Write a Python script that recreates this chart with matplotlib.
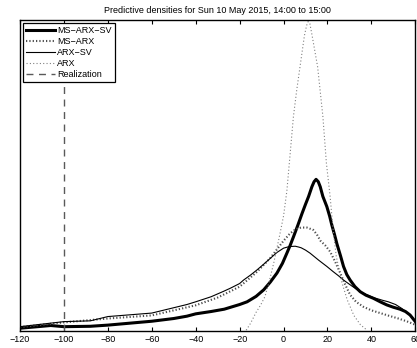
import matplotlib.pyplot as plt

plt.rcParams['font.family'] = ['Liberation Sans', 'DejaVu Sans']

# MS-ARX-SV predictive density
ms_arx_sv_x = [-120, -106, -100, -88, -80, -60, -50, -44, -40, -33, -27, -20, -16.6, -12.5,
               -9, -6, -3, -0.5, 1.5, 3, 4.5, 6.5, 8.4, 10, 11.4, 12.9, 13.9, 14.8, 15.8,
               16.7, 17.9, 19.7, 21, 22, 23.2, 24.3, 26, 27.3, 28.8, 30.3, 32.5, 34.9,
               37.5, 40.9, 44, 47, 50, 53, 55.5, 57.6, 60]
ms_arx_sv_y = [0.0007, 0.0014, 0.0011, 0.0012, 0.0015, 0.0025, 0.0032, 0.0038, 0.0044,
               0.0050, 0.0056, 0.0068, 0.0075, 0.0089, 0.0106, 0.0126, 0.0149, 0.0174,
               0.0200, 0.0220, 0.0242, 0.0272, 0.0302, 0.0326, 0.0346, 0.0371, 0.0384,
               0.0390, 0.0384, 0.0371, 0.0346, 0.0320, 0.0295, 0.0272, 0.0248, 0.0224,
               0.0192, 0.0166, 0.0145, 0.0131, 0.0114, 0.0101, 0.0092, 0.0084, 0.0075,
               0.0067, 0.0061, 0.0056, 0.0050, 0.0041, 0.0024]

# MS-ARX predictive density
ms_arx_x = [-120, -100, -80, -60, -40, -30, -24.2, -20, -16, -12.1, -9, -6, -3, 0, 2.5,
            4.5, 6.5, 8, 10.6, 13.5, 15.2, 16.8, 19, 21.2, 23.5, 25.8, 28, 30.3, 33,
            36.4, 40, 44, 48, 51.7, 56, 60]
ms_arx_y = [0.0010, 0.0022, 0.0032, 0.0040, 0.0066, 0.0086, 0.0102, 0.0114, 0.0133,
            0.0152, 0.0170, 0.0188, 0.0210, 0.0232, 0.0248, 0.0258, 0.0264, 0.0266,
            0.0266, 0.0260, 0.0248, 0.0232, 0.0220, 0.0204, 0.0178, 0.0149, 0.0120,
            0.0093, 0.0075, 0.0062, 0.0053, 0.0046, 0.0039, 0.0033, 0.0025, 0.0016]

# ARX-SV predictive density
arx_sv_x = [-120, -100, -88, -80, -60, -44, -40, -33, -27.3, -24.2, -20, -18.2, -15,
            -12.1, -9, -6, -3, 0, 2.5, 5.3, 6.8, 8, 10, 12.1, 16, 19.7, 22.5, 25, 27.3,
            31, 34.9, 38, 40.9, 45, 47.7, 51, 53.8, 56.5, 58.4, 60]
arx_sv_y = [0.0011, 0.0024, 0.0026, 0.0037, 0.0046, 0.0068, 0.0075, 0.0088, 0.0102,
            0.0110, 0.0122, 0.0131, 0.0144, 0.0157, 0.0172, 0.0187, 0.0202, 0.0213,
            0.0217, 0.0218, 0.0216, 0.0214, 0.0208, 0.0200, 0.0182, 0.0166, 0.0153,
            0.0142, 0.0131, 0.0116, 0.0101, 0.0093, 0.0086, 0.0079, 0.0075, 0.0068,
            0.0058, 0.0046, 0.0037, 0.0024]

# ARX predictive density
arx_x = [-17, -15, -12.5, -10.5, -8.5, -6.5, -4.5, -2, 0, 1.5, 2.5, 4.5, 6, 7.5, 9.5,
         10.5, 11.2, 12, 13, 15.5, 17.9, 19.5, 21.2, 22.5, 24, 26.5, 29, 32, 35, 38]
arx_y = [0.0002, 0.0020, 0.0048, 0.0066, 0.0088, 0.0128, 0.0174, 0.0240, 0.0296,
         0.0360, 0.0424, 0.0552, 0.0620, 0.0680, 0.0760, 0.0786, 0.0796, 0.0790,
         0.0760, 0.0680, 0.0552, 0.0432, 0.0346, 0.0264, 0.0192, 0.0126, 0.0080,
         0.0040, 0.0016, 0.0002]

realization = -100

fig = plt.figure(figsize=(4.17, 3.48), dpi=100)
ax = fig.add_axes([0.048, 0.049, 0.948, 0.8935])

ax.plot(ms_arx_sv_x, ms_arx_sv_y, color='black', lw=2.2, label='MS\u2212ARX\u2212SV')
ax.plot(ms_arx_x, ms_arx_y, color='0.3', lw=1.5, linestyle=(0, (0.6, 1.0)),
        label='MS\u2212ARX')
ax.plot(arx_sv_x, arx_sv_y, color='black', lw=0.8, label='ARX\u2212SV')
ax.plot(arx_x, arx_y, color='0.5', lw=0.8, linestyle=(0, (1, 2)), label='ARX')
ax.axvline(realization, color='0.35', lw=1.0, linestyle=(0, (5, 4)), label='Realization')

ax.set_xlim(-120, 60)
ax.set_ylim(0, 0.08)
ax.set_xticks(range(-120, 61, 20))
ax.set_yticks([])
ax.tick_params(axis='x', direction='in', top=True, length=3, labelsize=6.5, pad=3)
for s in ax.spines.values():
    s.set_linewidth(1.0)

ax.set_title('Predictive densities for Sun 10 May 2015, 14:00 to 15:00', fontsize=6.5, pad=5)

leg = ax.legend(loc='upper left', fontsize=6.5, handlelength=3.2, handletextpad=0.3,
                labelspacing=0.22, borderpad=0.3, borderaxespad=0.35, fancybox=False,
                framealpha=1)
leg.get_frame().set_edgecolor('black')
leg.get_frame().set_linewidth(0.9)

fig.savefig('out.png', dpi=100)
